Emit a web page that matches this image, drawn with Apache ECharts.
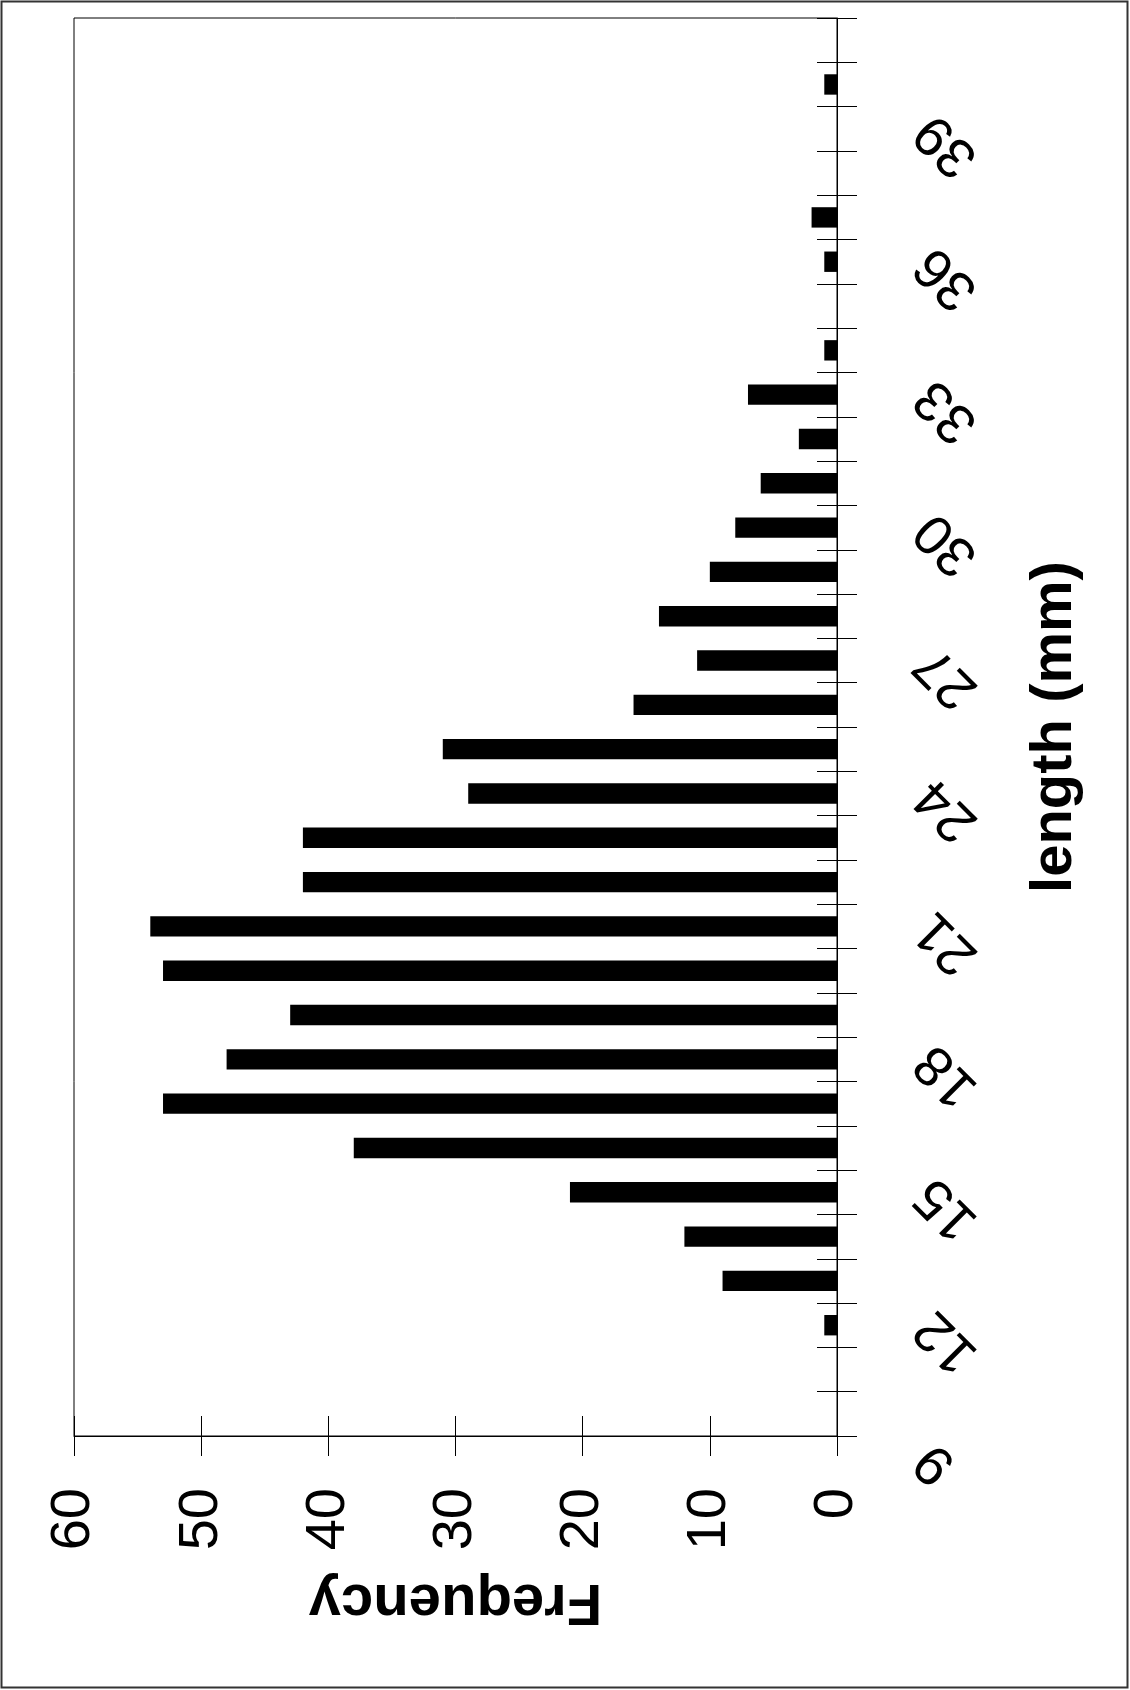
<!DOCTYPE html>
<html lang="en">
<head>
	<meta charset="UTF-8">
	<title>length histogram</title>
	<style>
		html,body{margin:0;padding:0;background:#fff;}
	</style>
</head>
<body>
	<div id="hist" style="width:1130px;height:1690px;"></div>
</body>
</html>
<script src="https://cdn.jsdelivr.net/npm/echarts@6/dist/echarts.min.js"></script>
<script>
	// bins [n, n+1) of length (mm)
	var lengthBins = ['9','10','11','12','13','14','15','16','17','18','19','20','21','22','23','24',
		'25','26','27','28','29','30','31','32','33','34','35','36','37','38','39','40'];
	var frequency = [0,0,1,9,12,21,38,53,48,43,53,54,42,42,29,31,
		16,11,14,10,8,6,3,7,1,0,1,2,0,0,1,0];
	var lengthLabels = [9,12,15,18,21,24,27,30,33,36,39];
	var freqLabels = [0,10,20,30,40,50,60];

	var myChart = echarts.init(document.getElementById('hist'));

	var font = '"Liberation Sans", Arial, Helvetica, sans-serif';

	option = {
		animation: false,
		backgroundColor: '#fff',
		graphic: [{
			type: 'rect',
			shape: {x: 1.5, y: 1.5, width: 1126, height: 1686},
			style: {fill: 'none', stroke: '#333', lineWidth: 2}
		}],
		grid: {
			left: 74,
			right: 293,
			top: 18,
			bottom: 254,
			show: true,
			borderColor: '#000',
			borderWidth: 1,
			backgroundColor: 'transparent'
		},
		xAxis: [
			{
				type: 'value',
				min: 0,
				max: 60,
				interval: 10,
				inverse: true,
				position: 'bottom',
				name: 'Frequency',
				nameLocation: 'middle',
				nameRotate: 180,
				nameGap: 136,
				nameTextStyle: {fontFamily: font, fontSize: 58, fontWeight: 'bold', color: '#000'},
				splitLine: {show: false},
				axisLine: {onZero: false, lineStyle: {color: '#000', width: 1}},
				axisTick: {length: 20, lineStyle: {color: '#000', width: 1}},
				axisLabel: {
					rotate: 90,
					margin: 52,
					fontFamily: font,
					fontSize: 56,
					color: '#000',
					formatter: function (v) {
						return freqLabels.indexOf(v) > -1 ? String(v) : '';
					}
				}
			},
			{
				// inner half of the crossing ticks
				type: 'value',
				min: 0,
				max: 60,
				interval: 10,
				inverse: true,
				position: 'bottom',
				splitLine: {show: false},
				axisLine: {show: false, onZero: false},
				axisTick: {inside: true, length: 20, lineStyle: {color: '#000', width: 1}},
				axisLabel: {show: false}
			}
		],
		yAxis: [
			{
				// bars sit in the bins
				type: 'category',
				data: lengthBins,
				position: 'right',
				show: false,
				boundaryGap: true
			},
			{
				type: 'value',
				min: 9,
				max: 41,
				interval: 1,
				position: 'right',
				name: 'length (mm)',
				nameLocation: 'middle',
				nameRotate: 90,
				nameGap: 189,
				nameTextStyle: {fontFamily: font, fontSize: 58, fontWeight: 'bold', color: '#000'},
				splitLine: {show: false},
				axisLine: {onZero: false, lineStyle: {color: '#000', width: 1}},
				axisTick: {length: 20, lineStyle: {color: '#000', width: 1}},
				axisLabel: {
					rotate: 135,
					margin: 104,
					verticalAlign: 'bottom',
					lineHeight: 46,
					fontFamily: font,
					fontSize: 56,
					color: '#000',
					formatter: function (v) {
						return lengthLabels.indexOf(v) > -1 ? String(v) : '';
					}
				}
			},
			{
				type: 'value',
				min: 9,
				max: 41,
				interval: 1,
				position: 'right',
				splitLine: {show: false},
				axisLine: {show: false, onZero: false},
				axisTick: {inside: true, length: 20, lineStyle: {color: '#000', width: 1}},
				axisLabel: {show: false}
			}
		],
		series: [
			{
				name: 'Frequency',
				type: 'bar',
				xAxisIndex: 0,
				yAxisIndex: 0,
				barWidth: '46%',
				data: frequency,
				itemStyle: {color: '#000'}
			}
		]
	};
	myChart.setOption(option);
</script>
